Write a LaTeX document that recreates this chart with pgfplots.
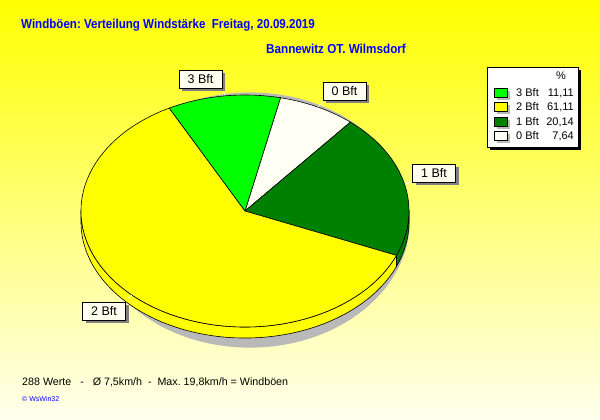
\documentclass[border=0pt]{standalone}
\usepackage{pgfplots}
\pgfplotsset{compat=1.18}
\usepackage{pgfplotstable}
\usepackage{fontspec}
\setmainfont{Liberation Sans}
\usepackage{graphicx}
\frenchspacing
\definecolor{bgtop}{RGB}{255,255,0}
\definecolor{bgbot}{RGB}{255,255,238}
\definecolor{bftthree}{RGB}{0,255,0}
\definecolor{bfttwo}{RGB}{255,255,0}
\definecolor{bftone}{RGB}{0,128,0}
\definecolor{bftzero}{RGB}{255,255,244}
\definecolor{titleblue}{RGB}{0,0,255}
\definecolor{boxfill}{RGB}{255,255,240}
\definecolor{shadowgray}{RGB}{185,185,185}
\definecolor{labshadow}{RGB}{128,128,128}

\pgfplotstableread{
label value
0 7.64
1 20.14
2 61.11
3 11.11
}\piedata

\newcommand\pielabel[3]{%
  \node[fill=labshadow,minimum width=43pt,minimum height=18pt,inner sep=0pt] at (#1+3,#2-3) {};
  \node[fill=boxfill,draw=black,line width=0.7pt,minimum width=43pt,minimum height=18pt,inner sep=0pt,font=\fontsize{12.5}{14}\selectfont] at (#1,#2) {#3};
}
\newcommand\legrow[4]{%
  \fill[shadowgray] (497,#1-7.5) rectangle (510,#1+1.5);
  \filldraw[fill=#2,draw=black,line width=0.7pt] (494,#1-4.5) rectangle (507,#1+4.5);
  \node[anchor=west,inner sep=0pt,font=\fontsize{11}{13}\selectfont] at (516,#1) {#3};
  \node[anchor=east,inner sep=0pt,font=\fontsize{11}{13}\selectfont] at (574,#1) {#4};
}

\begin{document}
\begin{tikzpicture}[x=1pt,y=1pt]
\fill[top color=bgtop,bottom color=bgbot] (0,0) rectangle (600,420);
\pgfplotstablegetelem{0}{value}\of\piedata \let\vA\pgfplotsretval
\pgfplotstablegetelem{1}{value}\of\piedata \let\vB\pgfplotsretval
\pgfplotstablegetelem{2}{value}\of\piedata \let\vC\pgfplotsretval
\pgfplotstablegetelem{3}{value}\of\piedata \let\vD\pgfplotsretval
\pgfmathsetmacro\aA{77.5}
\pgfmathsetmacro\aB{\aA-3.6*\vA}
\pgfmathsetmacro\aC{\aB-3.6*\vB}
\pgfmathsetmacro\aD{\aC-3.6*\vC}
\pgfmathsetmacro\aE{\aD-3.6*\vD}
\pgfmathsetmacro\aCp{\aC+360}
\def\dd{0.095}
\begin{axis}[at={(245pt,209pt)},anchor=center,scale only axis,width=328pt,height=232pt,
  xmin=-1,xmax=1,ymin=-1,ymax=1,hide axis,clip=false]
% shadow
\fill[shadowgray] (axis cs:0.03,-0.078) ellipse[x radius=0.976,y radius=1.10];
% sides
\filldraw[fill=bfttwo,draw=black,line width=0.6pt] (axis cs:-1,0) arc[start angle=180,end angle=\aCp,radius=1]
  -- (axis cs:{cos(\aCp)},{sin(\aCp)-\dd}) arc[start angle=\aCp,end angle=180,radius=1] -- cycle;
\filldraw[fill=bftone,draw=black,line width=0.6pt] (axis cs:{cos(\aC)},{sin(\aC)}) arc[start angle=\aC,end angle=0,radius=1]
  -- (axis cs:1,{-\dd}) arc[start angle=0,end angle=\aC,radius=1] -- cycle;
% top slices
\filldraw[fill=bftzero,draw=black,line width=0.6pt] (axis cs:0,0) -- (axis cs:{cos(\aA)},{sin(\aA)}) arc[start angle=\aA,end angle=\aB,radius=1] -- cycle;
\filldraw[fill=bftone,draw=black,line width=0.6pt] (axis cs:0,0) -- (axis cs:{cos(\aB)},{sin(\aB)}) arc[start angle=\aB,end angle=\aC,radius=1] -- cycle;
\filldraw[fill=bfttwo,draw=black,line width=0.6pt] (axis cs:0,0) -- (axis cs:{cos(\aC)},{sin(\aC)}) arc[start angle=\aC,end angle=\aD,radius=1] -- cycle;
\filldraw[fill=bftthree,draw=black,line width=0.6pt] (axis cs:0,0) -- (axis cs:{cos(\aD)},{sin(\aD)}) arc[start angle=\aD,end angle=\aE,radius=1] -- cycle;
\end{axis}
% leader lines
\draw[white,line width=0.7pt] (222,332) -- (225,325);
\draw[white,line width=0.7pt] (323,318) -- (318,313);
\draw[white,line width=0.7pt] (413,238) -- (405,236);
\draw[white,line width=0.7pt] (127,121) -- (132,125);
% labels
\pielabel{200.5}{341}{3 Bft}
\pielabel{344.5}{329}{0 Bft}
\pielabel{434}{246.5}{1 Bft}
\pielabel{104}{109}{2 Bft}
% legend
\fill[black] (490,270) rectangle (581,350);
\filldraw[fill=white,draw=black,line width=0.7pt] (487,273) rectangle (578,353);
\node[inner sep=0pt,font=\fontsize{11}{13}\selectfont] at (561,344) {\%};
\legrow{327}{bftthree}{3 Bft}{11,11}
\legrow{313}{bfttwo}{2 Bft}{61,11}
\legrow{298}{bftone}{1 Bft}{20,14}
\legrow{284}{bftzero}{0 Bft}{7,64}
% titles
\node[anchor=west,inner sep=0pt,text=titleblue,font=\bfseries\fontsize{13}{15}\selectfont] at (21,395) {\scalebox{0.89}[1]{Windböen: Verteilung Windstärke\ \ Freitag, 20.09.2019}};
\node[anchor=west,inner sep=0pt,text=titleblue,font=\bfseries\fontsize{13}{15}\selectfont] at (266,371) {\scalebox{0.9}[1]{Bannewitz OT. Wilmsdorf}};
\node[anchor=west,inner sep=0pt,font=\fontsize{10.7}{13}\selectfont] at (22,38) {288 Werte \ \ - \ \ Ø 7,5km/h \ - \ Max. 19,8km/h = Windböen};
\node[anchor=west,inner sep=0pt,text=titleblue,font=\fontsize{7}{8}\selectfont] at (22,21) {© WsWin32};
\end{tikzpicture}
\end{document}
